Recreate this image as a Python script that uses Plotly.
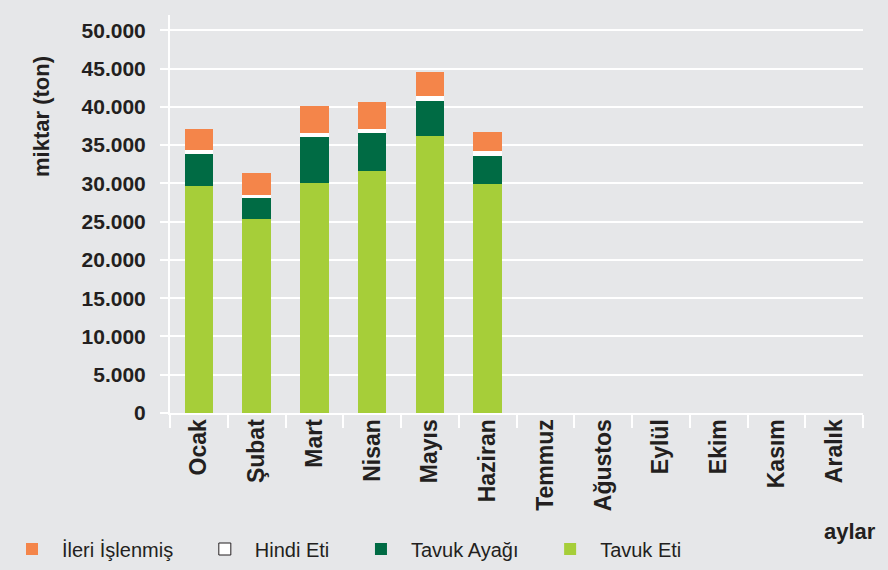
import plotly.graph_objects as go

months = ["Ocak", "Şubat", "Mart", "Nisan", "Mayıs", "Haziran",
          "Temmuz", "Ağustos", "Eylül", "Ekim", "Kasım", "Aralık"]
tavuk_eti = [29630, 25330, 30030, 31590, 36160, 29900]
tavuk_ayagi = [4180, 2740, 6000, 4960, 4570, 3650]
hindi_eti = [530, 390, 520, 530, 650, 650]
ileri_islenmis = [2750, 2870, 3530, 3520, 3140, 2480]
y_ticks = list(range(0, 50001, 5000))
y_tick_labels = [f"{v:,}".replace(",", ".") for v in y_ticks]

BG = "#E6E7E9"
FONT = "Liberation Sans, Arial, sans-serif"
NB = "\u00a0"

# plot area in pixels
L, R, T, B = 170, 863, 15, 413
def px_x(px):
    return (px - L) / (R - L)
def px_y(py):
    return (B - py) / (B - T)

fig = go.Figure()
x6 = months[:6]
fig.add_trace(go.Bar(x=x6, y=tavuk_eti, name="Tavuk Eti",
                     marker=dict(color="#A6CE39", line=dict(width=0))))
fig.add_trace(go.Bar(x=x6, y=tavuk_ayagi, name="Tavuk Ayağı" + NB * 3,
                     marker=dict(color="#006B44", line=dict(width=0))))
fig.add_trace(go.Bar(x=x6, y=hindi_eti, name="Hindi Eti", showlegend=False,
                     legendgroup="hindi",
                     marker=dict(color="#FFFFFF", line=dict(width=0))))
fig.add_trace(go.Bar(x=[None], y=[None], name="Hindi Eti" + NB * 3, legendgroup="hindi",
                     marker=dict(color="#FFFFFF", line=dict(width=1, color="#231F20"))))
fig.add_trace(go.Bar(x=x6, y=ileri_islenmis, name="İleri İşlenmiş" + NB * 3,
                     marker=dict(color="#F4854A", line=dict(width=0))))

fig.update_layout(
    barmode="stack",
    bargap=0.51,
    width=888, height=570,
    paper_bgcolor=BG, plot_bgcolor=BG,
    margin=dict(l=L, r=888 - R, t=T, b=570 - B, autoexpand=False),
    font=dict(family=FONT, color="#231F20"),
    legend=dict(orientation="h", xref="container", x=2 / 888, xanchor="left",
                yref="container", y=(570 - 549) / 570, yanchor="middle",
                traceorder="reversed",
                font=dict(size=20, family=FONT),
                itemwidth=50, bgcolor="rgba(0,0,0,0)"),
    xaxis=dict(categoryorder="array", categoryarray=months,
               range=[-0.5, 11.5],
               tickangle=-90,
               tickfont=dict(size=23, family=FONT, weight="bold"),
               ticks="outside", tickson="boundaries", ticklen=13, tickwidth=2,
               ticklabelstandoff=-5,
               tickcolor="white", showline=True, linecolor="white", linewidth=2,
               showgrid=False),
    yaxis=dict(range=[0, 52000], tickvals=y_ticks, ticktext=y_tick_labels,
               tickfont=dict(size=21, family=FONT, weight="bold"),
               ticks="outside", ticklen=8, tickwidth=2, tickcolor="white",
               ticklabelstandoff=10,
               showline=True, linecolor="white", linewidth=2,
               showgrid=True, gridcolor="white", gridwidth=2, zeroline=False),
    annotations=[
        dict(text="<b>miktar (ton)</b>", xref="paper", yref="paper",
             x=px_x(41), y=px_y(117), textangle=-90, showarrow=False,
             xanchor="center", yanchor="middle",
             font=dict(size=22, family=FONT)),
        dict(text="<b>aylar</b>", xref="paper", yref="paper",
             x=px_x(878), xanchor="right", y=px_y(531), yanchor="middle",
             showarrow=False,
             font=dict(size=22, family=FONT)),
    ],
)

fig.write_html("out.html", config={"displayModeBar": False},
               post_script="document.body.style.margin='0';document.body.style.padding='0';")
